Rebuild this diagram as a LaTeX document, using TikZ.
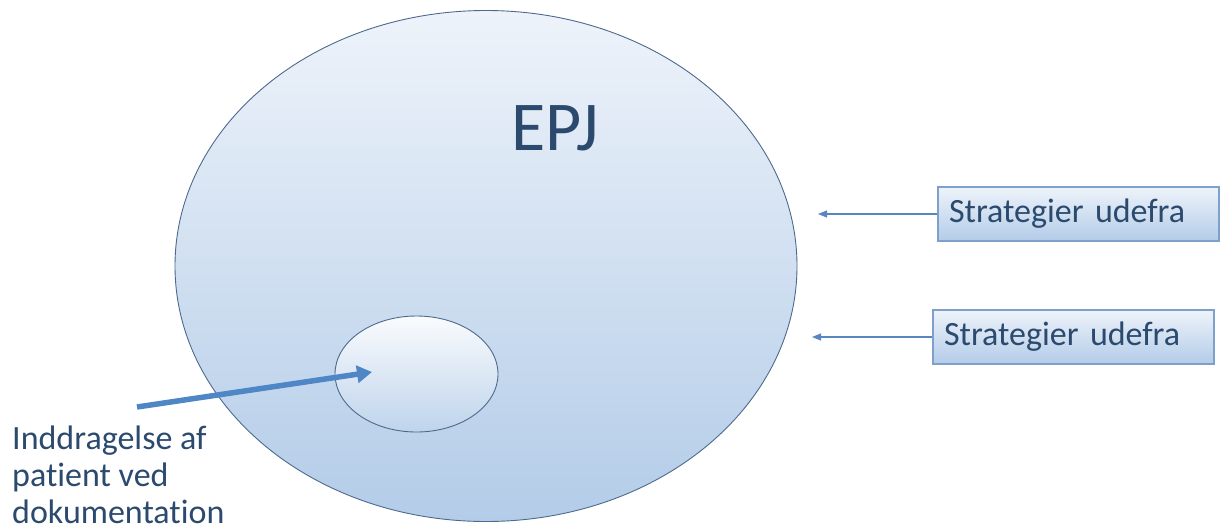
\documentclass[tikz,border=0pt]{standalone}
\usepackage{fontspec}
\setmainfont{Carlito}[Ligatures=NoCommon]
\usetikzlibrary{shapes.geometric,arrows.meta}
\definecolor{inkblue}{HTML}{2B4A6E}
\definecolor{rimblue}{HTML}{4D6A8D}
\definecolor{paleblue}{HTML}{EEF3FA}
\definecolor{midblue}{HTML}{B3CCE8}
\definecolor{boxedge}{HTML}{7FA0CB}
\definecolor{thinarrow}{HTML}{5A86C0}
\definecolor{thickarrow}{HTML}{4F86C6}
\tikzset{
  bigoval/.style={ellipse, draw=rimblue, line width=0.9pt, inner sep=0pt,
    top color=paleblue, bottom color=midblue},
  smalloval/.style={ellipse, draw=rimblue, line width=0.9pt, inner sep=0pt,
    top color=white!70!paleblue, bottom color=midblue!85!white,
    minimum width=163pt, minimum height=116pt},
  stratbox/.style={rectangle, draw=boxedge, line width=1.4pt,
    top color=paleblue, bottom color=midblue,
    text width=259pt, align=left, inner xsep=11pt, inner ysep=0pt,
    minimum height=54pt, font=\fontsize{34}{38}\selectfont, text=inkblue},
  inarrow/.style={draw=thinarrow, line width=1.2pt,
    -{Triangle[length=9pt,width=7pt]}},
  bigarrow/.style={draw=thickarrow, line width=5.5pt,
    -{Triangle[length=15pt,width=17pt]}},
}
\begin{document}
\begin{tikzpicture}[x=1pt,y=-1pt]
  \useasboundingbox (0,0) rectangle (1220,531);
  % the record system as a whole
  \node[bigoval, minimum width=622pt, minimum height=511pt] (epj) at (486,266) {};
  \node[anchor=base, text=inkblue, font=\fontsize{70}{80}\selectfont] (epjlabel) at (555,150) {EPJ};
  % patient involvement region
  \node[smalloval] (inner) at (416.5,374) {};
  % strategies coming from outside
  \node[stratbox] (s1) at (1078.5,214) {Strategier udefra};
  \node[stratbox] (s2) at (1073.5,337) {Strategier udefra};
  \coordinate (t1) at (818,214);
  \coordinate (t2) at (812,337);
  \draw[inarrow] (s1.west) -- (t1);
  \draw[inarrow] (s2.west) -- (t2);
  % label and arrow into the inner region
  \node[anchor=north west, inner sep=0pt, align=left, text=inkblue,
        font=\fontsize{34}{37}\selectfont] (lbl) at (12,426)
        {Inddragelse af\\patient ved\\dokumentation};
  \coordinate (a0) at (137,407);
  \coordinate (a1) at (372,372);
  \draw[bigarrow] (a0) -- (a1);
\end{tikzpicture}
\end{document}
